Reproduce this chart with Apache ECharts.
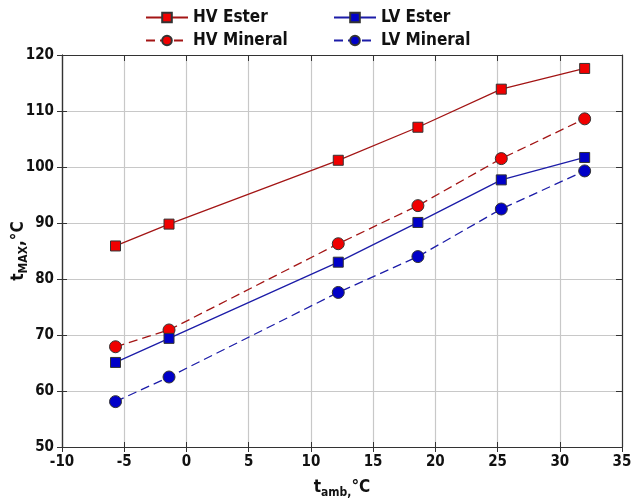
<!DOCTYPE html>
<html>
<head>
<meta charset="utf-8">
<script src="https://cdn.jsdelivr.net/npm/echarts@6/dist/echarts.min.js"></script>
<style>
  html, body { margin: 0; padding: 0; background: #fff; }
  #chart { width: 631px; height: 504px; }
</style>
</head>
<body>
<div id="chart"></div>
<script>
  // ambient temperatures (x) and max temperatures per case
  var tAmb = [-5.7, -1.4, 12.2, 18.6, 25.3, 32.0]
  var hvEster = [85.9, 89.8, 101.2, 107.1, 113.9, 117.6]
  var hvMineral = [67.9, 70.9, 86.3, 93.1, 101.5, 108.6]
  var lvEster = [65.1, 69.4, 83.0, 90.1, 97.7, 101.7]
  var lvMineral = [58.1, 62.5, 77.6, 84.0, 92.5, 99.3]

  var font = 'DejaVu Sans Condensed'
  var hvLine = '#a31515', hvFill = '#f00000'
  var lvLine = '#1c1ca8', lvFill = '#0000c8'

  function pairs(ys) {
    return tAmb.map(function (x, i) { return [x, ys[i]] })
  }

  function mkSeries(name, ys, symbol, lineColor, fill, dashed) {
    return {
      name: name,
      type: 'line',
      data: pairs(ys),
      symbol: symbol === 'rect' ? 'rect' : 'circle',
      symbolSize: symbol === 'rect' ? 10 : 12,
      lineStyle: { color: lineColor, width: 1.3, type: dashed ? [9, 5] : 'solid' },
      itemStyle: { color: fill, borderColor: '#333', borderWidth: 1 },
      emphasis: { disabled: true },
      z: 5
    }
  }

  var chart = echarts.init(document.getElementById('chart'))

  var legendBase = {
    itemWidth: 42,
    itemHeight: 12,
    textStyle: { fontFamily: font, fontSize: 17, fontWeight: 'bold', color: '#111' },
    selectedMode: false
  }

  var subRich = {
    t: { fontSize: 17, fontWeight: 'bold', color: '#111', fontFamily: font },
    s: { fontSize: 12, fontWeight: 'bold', color: '#111', fontFamily: font, padding: [10, 0, 0, 0] }
  }

  var option = {
    animation: false,
    textStyle: { fontFamily: font },
    legend: [
      Object.assign({ left: 140, top: 4, data: ['HV Ester'] }, legendBase),
      Object.assign({ left: 328, top: 4, data: ['LV Ester'] }, legendBase),
      Object.assign({ left: 140, top: 27, data: ['HV Mineral'] }, legendBase),
      Object.assign({ left: 328, top: 27, data: ['LV Mineral'] }, legendBase)
    ],
    grid: { left: 62, right: 9, top: 55, bottom: 57, outerBoundsMode: 'none', containLabel: false },
    xAxis: [
      {
        type: 'value', min: -10, max: 35, interval: 5,
        name: '{t|t}{s|amb,}{t|°C}', nameLocation: 'middle', nameGap: 30, nameMoveOverlap: false,
        nameTextStyle: { rich: subRich },
        axisLine: { onZero: false, lineStyle: { color: '#333', width: 1.2 } },
        axisTick: { inside: false, length: 5, lineStyle: { color: '#333' } },
        axisLabel: { color: '#111', fontSize: 15, fontWeight: 'bold', margin: 8 },
        splitLine: { show: true, lineStyle: { color: '#c8c8c8', width: 1.2 } }
      },
      {
        type: 'value', min: -10, max: 35, interval: 5, position: 'bottom',
        axisLine: { show: true, onZero: false, lineStyle: { color: '#333', width: 1.2 } },
        axisTick: { inside: true, length: 5, lineStyle: { color: '#333' } },
        axisLabel: { show: false }, splitLine: { show: false }
      },
      {
        type: 'value', min: -10, max: 35, interval: 5, position: 'top',
        axisLine: { onZero: false, lineStyle: { color: '#333', width: 1.2 } },
        axisTick: { inside: true, length: 6, lineStyle: { color: '#333' } },
        axisLabel: { show: false }, splitLine: { show: false }
      }
    ],
    yAxis: [
      {
        type: 'value', min: 50, max: 120, interval: 10,
        name: '{t|t}{s|MAX}{t|,°C}', nameLocation: 'middle', nameGap: 32, nameRotate: 90, nameMoveOverlap: false,
        nameTextStyle: { rich: subRich },
        axisLine: { onZero: false, lineStyle: { color: '#333', width: 1.2 } },
        axisTick: { inside: false, length: 5, lineStyle: { color: '#333' } },
        axisLabel: { color: '#111', fontSize: 15, fontWeight: 'bold', margin: 8 },
        splitLine: { show: true, lineStyle: { color: '#c8c8c8', width: 1.2 } }
      },
      {
        type: 'value', min: 50, max: 120, interval: 10, position: 'left',
        axisLine: { show: true, onZero: false, lineStyle: { color: '#333', width: 1.2 } },
        axisTick: { inside: true, length: 5, lineStyle: { color: '#333' } },
        axisLabel: { show: false }, splitLine: { show: false }
      },
      {
        type: 'value', min: 50, max: 120, interval: 10, position: 'right',
        axisLine: { onZero: false, lineStyle: { color: '#333', width: 1.2 } },
        axisTick: { inside: true, length: 6, lineStyle: { color: '#333' } },
        axisLabel: { show: false }, splitLine: { show: false }
      }
    ],
    series: [
      mkSeries('HV Ester', hvEster, 'rect', hvLine, hvFill, false),
      mkSeries('HV Mineral', hvMineral, 'circle', hvLine, hvFill, true),
      mkSeries('LV Ester', lvEster, 'rect', lvLine, lvFill, false),
      mkSeries('LV Mineral', lvMineral, 'circle', lvLine, lvFill, true)
    ]
  }

  chart.setOption(option)
</script>
</body>
</html>
